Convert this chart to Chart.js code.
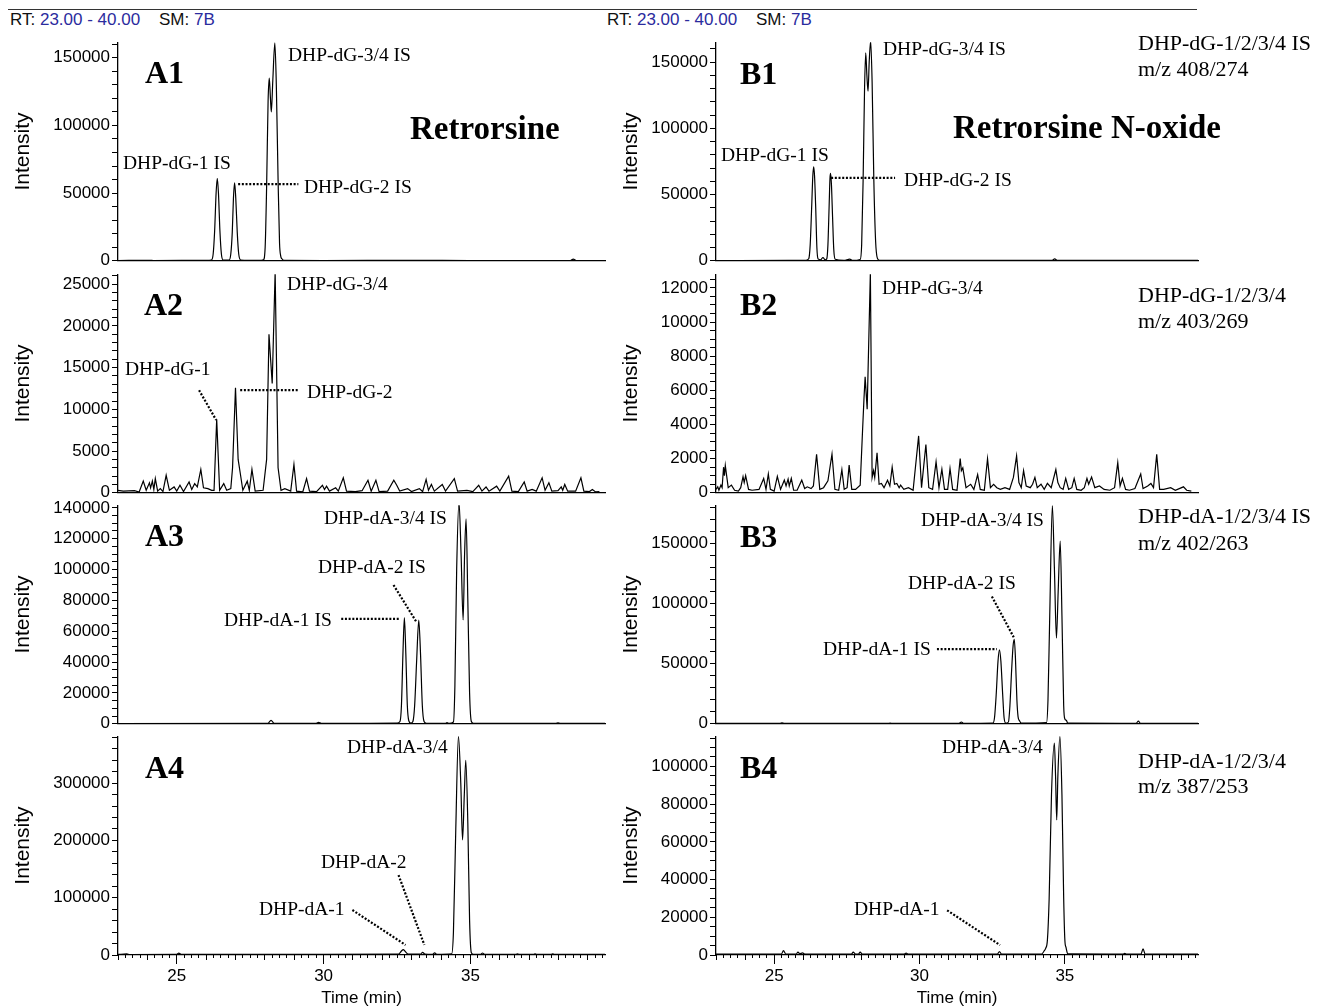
<!DOCTYPE html>
<html>
<head>
<meta charset="utf-8">
<script src="https://cdn.jsdelivr.net/npm/chart.js@4/dist/chart.umd.min.js"></script>
<style>
  body { margin: 0; background: #fff; width: 1322px; height: 1007px; position: relative; overflow: hidden; font-family: "Liberation Sans", Arial, sans-serif; }
  .hdr { position: absolute; top: 11px; font-size: 17px; line-height: 17px; color: #111; white-space: pre; }
  .hdr b { font-weight: normal; color: #2b2b9e; }
  #rule { position: absolute; left: 8px; top: 9px; width: 1189px; border-top: 1.5px solid #333; }
  canvas { position: absolute; }
</style>
</head>
<body>
<div id="rule"></div>
<div class="hdr" style="left:10px">RT: <b>23.00 - 40.00</b>    SM: <b>7B</b></div>
<div class="hdr" style="left:607px">RT: <b>23.00 - 40.00</b>    SM: <b>7B</b></div>
<script>
// chromatogram traces, [time (min), intensity]
const traceA1 = [
  [23.0,200],[24.1,300],[24.2,200],[26.0,300],[26.18,600],
  [26.24,5000],[26.29,22000],[26.34,50000],[26.38,61000],[26.42,50000],[26.47,22000],[26.52,5000],[26.58,600],
  [26.78,500],[26.84,5000],[26.89,21000],[26.93,46000],[26.97,57500],[27.01,46000],[27.06,21000],[27.11,5000],[27.18,600],
  [27.8,300],[27.95,700],[28.01,10000],[28.06,55000],[28.11,118000],[28.15,135000],[28.19,120000],[28.22,110000],
  [28.27,133000],[28.34,161000],[28.39,130000],[28.45,60000],[28.5,13000],[28.54,3500],[28.58,1500],[28.65,300],
  [30.0,200],[33.0,300],[35.0,200],[38.4,200],[38.5,1200],[38.6,200],[39.58,200]
]
const traceB1 = [
  [23.0,200],[25.5,300],[26.1,400],
  [26.19,1500],[26.24,12000],[26.29,40000],[26.33,64000],[26.36,71000],[26.39,64000],[26.43,40000],[26.47,10000],[26.51,1500],
  [26.6,800],[26.68,2500],[26.75,800],
  [26.81,1500],[26.85,12000],[26.89,40000],[26.92,62000],[26.94,66000],[26.97,58000],[27.01,33000],[27.05,9000],[27.1,1200],
  [27.4,400],[27.6,1200],[27.7,300],
  [27.96,1000],[28.01,12000],[28.06,60000],[28.11,130000],[28.15,157000],[28.19,140000],[28.23,128000],[28.27,150000],
  [28.32,166000],[28.37,135000],[28.43,60000],[28.49,15000],[28.55,2000],[28.62,400],
  [31.0,300],[34.55,300],[34.65,1400],[34.75,300],[39.58,300]
]
const traceA2 = [
  [23.0,300],[23.18,200],[23.56,250],[23.72,100],[23.86,1400],[23.96,300],[24.07,1200],[24.11,600],[24.17,1400],[24.22,400],
  [24.27,1700],[24.35,200],[24.44,500],[24.53,150],[24.64,2100],[24.75,300],[24.91,700],[25.0,200],[25.11,900],[25.23,150],
  [25.42,1300],[25.51,400],[25.61,1100],[25.7,700],[25.82,2800],[25.91,600],[26.06,500],[26.19,300],[26.27,300],[26.36,8800],
  [26.46,300],[26.6,1100],[26.7,300],[26.84,500],[26.9,3000],[27.0,12600],[27.09,4000],[27.16,2400],[27.25,300],[27.4,1400],
  [27.47,300],[27.56,2800],[27.67,200],[27.94,300],[28.06,4000],[28.14,19000],[28.25,13100],[28.35,26500],[28.45,3000],
  [28.55,300],[28.68,500],[28.88,200],[28.99,3400],[29.08,200],[29.29,100],[29.42,1700],[29.52,200],[29.76,150],[29.96,900],
  [30.03,400],[30.1,800],[30.2,200],[30.41,600],[30.5,200],[30.67,1800],[30.78,200],[31.08,150],[31.31,250],[31.51,1500],
  [31.62,200],[31.78,1500],[31.89,150],[32.18,200],[32.39,1500],[32.49,900],[32.59,200],[32.86,500],[32.99,150],[33.26,500],
  [33.37,150],[33.49,1600],[33.57,300],[33.67,1000],[33.77,200],[34.04,1000],[34.15,200],[34.45,1700],[34.56,200],[34.88,300],
  [35.08,150],[35.28,900],[35.39,200],[35.53,700],[35.63,200],[35.89,800],[36.0,200],[36.3,2000],[36.41,200],[36.63,150],
  [36.83,1300],[36.93,200],[37.1,400],[37.24,200],[37.44,1800],[37.54,300],[37.67,1200],[37.77,200],[37.98,250],[38.09,700],
  [38.14,300],[38.21,1000],[38.31,200],[38.58,200],[38.76,1800],[38.86,200],[39.05,150],[39.15,400],[39.26,100],[39.39,150]
]
const traceB2 = [
  [23.0,200],[23.06,350],[23.1,150],[23.17,450],[23.21,300],[23.26,1500],[23.29,1000],[23.32,1600],[23.42,300],[23.53,450],
  [23.64,150],[23.77,100],[23.85,300],[23.93,940],[23.97,600],[24.02,1000],[24.12,200],[24.24,150],[24.48,200],[24.64,840],
  [24.72,200],[24.8,1100],[24.87,200],[25.0,100],[25.11,960],[25.22,200],[25.35,740],[25.41,400],[25.48,800],[25.52,400],
  [25.59,840],[25.67,150],[25.79,150],[25.95,740],[26.05,250],[26.14,350],[26.27,250],[26.35,400],[26.46,2250],[26.57,200],
  [26.7,300],[26.85,700],[26.99,2260],[27.09,200],[27.22,150],[27.33,1350],[27.41,200],[27.51,300],[27.58,1620],[27.67,200],
  [27.8,200],[27.96,450],[28.04,3600],[28.09,5500],[28.13,6800],[28.2,4900],[28.31,12900],[28.37,900],[28.42,1300],[28.46,900],
  [28.54,2340],[28.61,500],[28.69,550],[28.78,300],[28.9,740],[28.98,400],[29.06,1500],[29.14,500],[29.22,550],[29.3,300],
  [29.35,450],[29.46,200],[29.62,300],[29.78,150],[29.97,3330],[30.07,300],[30.22,2830],[30.32,300],[30.45,200],[30.57,1810],
  [30.67,300],[30.77,1380],[30.86,200],[30.97,200],[31.05,1420],[31.14,200],[31.29,150],[31.4,2000],[31.44,1300],[31.49,1460],
  [31.6,300],[31.76,500],[31.87,200],[32.0,1070],[32.09,200],[32.23,150],[32.34,2000],[32.44,300],[32.55,500],[32.66,300],
  [32.78,200],[32.94,300],[33.1,200],[33.23,900],[33.34,2160],[33.42,600],[33.5,300],[33.58,1290],[33.67,400],[33.81,300],
  [33.89,500],[33.97,900],[34.05,300],[34.18,500],[34.29,200],[34.4,550],[34.53,300],[34.69,1360],[34.76,600],[34.84,300],
  [34.94,200],[35.03,840],[35.13,200],[35.24,300],[35.32,840],[35.41,200],[35.56,150],[35.67,300],[35.76,840],[35.82,500],
  [35.92,920],[36.03,300],[36.19,400],[36.35,200],[36.55,150],[36.71,300],[36.82,1770],[36.9,400],[36.98,840],[37.09,200],
  [37.22,150],[37.41,250],[37.61,1100],[37.69,250],[37.85,400],[37.96,550],[38.05,300],[38.16,2250],[38.26,200],[38.4,200],
  [38.64,300],[38.8,150],[39.08,350],[39.19,150],[39.35,100]
]
const traceA3 = [
  [23.0,200],[28.1,300],[28.21,2200],[28.32,300],[29.75,300],[29.83,900],[29.92,300],
  [32.5,400],[32.6,1500],[32.65,12000],[32.7,45000],[32.75,68800],[32.8,45000],[32.85,12000],[32.9,2000],[32.97,400],
  [33.04,1500],[33.1,12000],[33.17,42000],[33.24,67300],[33.3,45000],[33.36,12000],[33.42,1500],[33.5,300],
  [34.15,300],[34.2,700],[34.27,300],
  [34.42,1200],[34.47,25000],[34.53,100000],[34.61,143700],[34.68,110000],[34.75,67300],[34.8,110000],[34.85,132800],
  [34.91,80000],[34.97,20000],[35.03,1500],[35.1,300],
  [37.9,300],[37.98,600],[38.06,300],[39.58,300]
]
const traceB3 = [
  [23.0,300],[25.2,300],[25.27,800],[25.35,300],[28.9,300],[28.99,600],[29.08,300],
  [31.35,300],[31.44,1500],[31.52,300],
  [32.52,500],[32.58,5000],[32.64,25000],[32.7,52000],[32.75,61600],[32.8,52000],[32.86,25000],[32.91,5000],[32.97,500],
  [33.06,1500],[33.11,15000],[33.17,45000],[33.22,65000],[33.26,70400],[33.3,55000],[33.35,20000],[33.39,6000],[33.44,2500],[33.5,500],
  [34.37,1000],[34.42,20000],[34.48,90000],[34.57,181700],[34.64,130000],[34.71,71300],[34.77,110000],[34.84,152200],
  [34.9,90000],[34.96,15000],[35.0,4000],[35.05,3000],[35.1,500],
  [37.45,400],[37.53,2200],[37.6,400],[39.58,300]
]
const traceA4 = [
  [23.0,1000],[23.3,1800],[23.4,800],[25.0,1000],[25.07,3200],[25.15,1000],[27.5,1200],[30.0,1000],
  [32.55,1500],[32.65,7000],[32.71,9500],[32.78,6000],[32.88,1500],
  [33.3,1500],[33.37,4600],[33.45,1500],[33.7,1200],[33.78,3600],[33.86,1200],
  [34.36,2000],[34.42,40000],[34.5,220000],[34.59,382000],[34.67,300000],[34.73,201000],[34.79,280000],[34.84,340000],
  [34.91,230000],[34.97,60000],[35.03,4000],[35.1,1200],
  [35.35,1200],[35.41,3500],[35.48,1200],[36.55,1200],[36.6,2000],[36.65,1200],[37.15,1200],[37.2,2000],[37.25,1200],
  [37.75,1200],[37.8,2200],[37.85,1200],[39.58,1000]
]
const traceB4 = [
  [23.0,500],[25.25,500],[25.32,2300],[25.4,500],[25.76,500],[25.82,1600],[25.88,600],[25.98,1100],[26.05,500],
  [27.66,500],[27.72,1500],[27.8,500],[27.9,500],[27.96,1500],[28.03,500],[29.48,500],[29.54,1000],[29.6,500],
  [32.68,500],[32.75,1800],[32.82,500],
  [34.2,500],[34.28,2000],[34.34,3500],[34.4,8000],[34.46,30000],[34.54,85000],[34.64,112400],[34.68,95000],[34.72,71600],
  [34.76,95000],[34.83,116000],[34.9,85000],[34.96,30000],[35.0,8000],[35.04,4000],[35.1,600],
  [37.0,500],[37.06,900],[37.12,500],[37.62,500],[37.69,3300],[37.76,500],[39.58,500]
]

// y axis: [max, minor tick step, labelled step]
const yA1 = [161500, 10000, 50000]
const yB1 = [165000, 10000, 50000]
const yA2 = [26200, 1000, 5000]
const yB2 = [12800, 500, 2000]
const yA3 = [141700, 5000, 20000]
const yB3 = [182000, 10000, 50000]
const yA4 = [382000, 20000, 100000]
const yB4 = [116000, 5000, 20000]

const timeMin = 23
const timeMax = 39.58

// labels: text, x, baseline y (page px), style
const notesA1 = [["A1",145,83,"b"],["DHP-dG-3/4 IS",288,61,"p"],["Retrorsine",410,139,"B"],["DHP-dG-1 IS",123,169,"p"],["DHP-dG-2 IS",304,193,"p"]]
const notesB1 = [["B1",740,84,"b"],["DHP-dG-3/4 IS",883,55,"p"],["DHP-dG-1/2/3/4 IS",1138,50,"r"],["m/z 408/274",1138,76,"r"],
  ["Retrorsine N-oxide",953,138,"B"],["DHP-dG-1 IS",721,161,"p"],["DHP-dG-2 IS",904,186,"p"]]
const notesA2 = [["A2",144,315,"b"],["DHP-dG-3/4",287,290,"p"],["DHP-dG-1",125,375,"p"],["DHP-dG-2",307,398,"p"]]
const notesB2 = [["B2",740,315,"b"],["DHP-dG-3/4",882,294,"p"],["DHP-dG-1/2/3/4",1138,302,"r"],["m/z 403/269",1138,328,"r"]]
const notesA3 = [["A3",145,546,"b"],["DHP-dA-3/4 IS",324,524,"p"],["DHP-dA-2 IS",318,573,"p"],["DHP-dA-1 IS",224,626,"p"]]
const notesB3 = [["B3",740,547,"b"],["DHP-dA-3/4 IS",921,526,"p"],["DHP-dA-1/2/3/4 IS",1138,523,"r"],["m/z 402/263",1138,550,"r"],
  ["DHP-dA-2 IS",908,589,"p"],["DHP-dA-1 IS",823,655,"p"]]
const notesA4 = [["A4",145,778,"b"],["DHP-dA-3/4",347,753,"p"],["DHP-dA-2",321,868,"p"],["DHP-dA-1",259,915,"p"]]
const notesB4 = [["B4",740,778,"b"],["DHP-dA-3/4",942,753,"p"],["DHP-dA-1/2/3/4",1138,768,"r"],["m/z 387/253",1138,793,"r"],["DHP-dA-1",854,915,"p"]]

// dotted leaders in data units: [t1, v1, t2, v2]
const leadA1 = [[27.09,56600,29.14,56600]]
const leadB1 = [[26.96,62600,29.16,62600]]
const leadA2 = [[25.76,12300,26.34,8730],[27.16,12300,29.14,12300]]
const leadB2 = []
const leadA3 = [[32.38,90000,33.16,66000],[30.6,68000,32.61,68000]]
const leadB3 = [[32.49,106000,33.24,72100],[30.6,62200,32.66,62200]]
const leadA4 = [[32.55,139600,33.43,17500],[30.98,78500,32.79,17500]]
const leadB4 = [[30.95,23700,32.77,5260]]

const SANS = '"Liberation Sans", Arial, sans-serif'
const SERIF = '"Liberation Serif", "Times New Roman", serif'
const FONTS = {
  p: `19.5px ${SERIF}`,
  r: `22px ${SERIF}`,
  b: `bold 32px ${SERIF}`,
  B: `bold 33px ${SERIF}`
}

const panels = [
  { col: 0, row: 0, trace: traceA1, y: yA1, notes: notesA1, leads: leadA1 },
  { col: 1, row: 0, trace: traceB1, y: yB1, notes: notesB1, leads: leadB1 },
  { col: 0, row: 1, trace: traceA2, y: yA2, notes: notesA2, leads: leadA2, noisy: true },
  { col: 1, row: 1, trace: traceB2, y: yB2, notes: notesB2, leads: leadB2, noisy: true },
  { col: 0, row: 2, trace: traceA3, y: yA3, notes: notesA3, leads: leadA3 },
  { col: 1, row: 2, trace: traceB3, y: yB3, notes: notesB3, leads: leadB3 },
  { col: 0, row: 3, trace: traceA4, y: yA4, notes: notesA4, leads: leadA4 },
  { col: 1, row: 3, trace: traceB4, y: yB4, notes: notesB4, leads: leadB4 }
]

const plotTops = [42, 274, 505, 736]
const plotH = 219
const colLeft = [0, 610]
const colWidth = [610, 712]
const yAxisW = [118, 106]
const padRight = [5, 124]

function notesPlugin(p, left, top) {
  return {
    id: "notes",
    afterDraw(chart) {
      const ctx = chart.ctx
      const xs = chart.scales.x
      const ys = chart.scales.y
      ctx.save()
      ctx.strokeStyle = "#000"
      ctx.lineWidth = 2.2
      ctx.setLineDash([2, 1.7])
      p.leads.forEach(([t1, v1, t2, v2]) => {
        ctx.beginPath()
        ctx.moveTo(xs.getPixelForValue(t1), ys.getPixelForValue(v1))
        ctx.lineTo(xs.getPixelForValue(t2), ys.getPixelForValue(v2))
        ctx.stroke()
      })
      ctx.setLineDash([])
      ctx.fillStyle = "#000"
      ctx.textAlign = "left"
      ctx.textBaseline = "alphabetic"
      p.notes.forEach(([text, x, y, kind]) => {
        ctx.font = FONTS[kind]
        ctx.fillText(text, x - left, y - top)
      })
      ctx.restore()
    }
  }
}

// extra tick-only x axes (1 min and 0.25 min marks) stacked at the plot bottom
function minorX(step, len) {
  return {
    type: "linear", position: "bottom", min: timeMin, max: timeMax, weight: 0,
    border: { display: false },
    grid: { drawOnChartArea: false, drawTicks: true, tickLength: len, color: "#000", lineWidth: 1 },
    ticks: { display: false, stepSize: step, autoSkip: false, includeBounds: false, maxTicksLimit: 1000 },
    afterFit: (s) => { s.height = 0 }
  }
}

panels.forEach(p => {
  const bottom = p.row === 3
  const xH = bottom ? 52 : 12
  const left = colLeft[p.col]
  const top = plotTops[p.row] - 12
  const w = colWidth[p.col]
  const h = 12 + plotH + xH
  const [yMax, minor, major] = p.y

  const canvas = document.createElement("canvas")
  canvas.width = w
  canvas.height = h
  canvas.style.left = left + "px"
  canvas.style.top = top + "px"
  canvas.style.width = w + "px"
  canvas.style.height = h + "px"
  document.body.appendChild(canvas)

  const scales = {
    x: {
      type: "linear", position: "bottom", min: timeMin, max: timeMax, weight: 1,
      border: { display: true, color: "#000", width: 1.3 },
      grid: { drawOnChartArea: false, drawTicks: bottom, tickLength: 9, color: "#000", lineWidth: 1 },
      ticks: {
        display: bottom, stepSize: 5, autoSkip: false, includeBounds: false, maxRotation: 0, padding: 2,
        color: "#000", font: { family: SANS, size: 17 }
      },
      title: {
        display: bottom, text: "Time (min)", color: "#000",
        font: { family: SANS, size: 17, lineHeight: 1 }, padding: { top: 0, bottom: 0 }
      },
      afterFit: (s) => { s.height = xH }
    },
    y: {
      type: "linear", position: "left", min: 0, max: yMax,
      border: { display: true, color: "#000", width: 1.3 },
      grid: { drawOnChartArea: false, drawTicks: true, tickLength: 6, color: "#000", lineWidth: 1 },
      ticks: {
        autoSkip: false, padding: 2,
        color: "#000", font: { family: SANS, size: 17 },
        callback: (v) => (v % major === 0 ? String(v) : "")
      },
      // minor ticks all the way up, labels only on the major ones
      afterBuildTicks: (s) => {
        const list = []
        for (let v = 0; v <= yMax; v += minor) list.push({ value: v })
        s.ticks = list
      },
      title: {
        display: true, text: "Intensity", color: "#000",
        font: { family: SANS, size: 21, lineHeight: 1 },
        padding: { top: p.col === 0 ? 12.5 : 10.5, bottom: 0 }
      },
      afterFit: (s) => { s.width = yAxisW[p.col] }
    }
  }
  if (bottom) {
    scales.xm = minorX(1, 5)
    scales.xs = minorX(0.25, 3)
  }

  new Chart(canvas, {
    type: "line",
    data: {
      datasets: [{
        data: p.trace.map(([t, v]) => ({ x: t, y: v })),
        borderColor: "#000",
        borderWidth: 1.2,
        pointRadius: 0,
        fill: false,
        tension: 0,
        cubicInterpolationMode: p.noisy ? "default" : "monotone"
      }]
    },
    options: {
      responsive: false,
      animation: false,
      events: [],
      layout: { padding: { top: 12, right: padRight[p.col], left: 0, bottom: 0 } },
      plugins: { legend: { display: false }, tooltip: { enabled: false } },
      scales
    },
    plugins: [notesPlugin(p, left, top)]
  })
})
</script>
</body>
</html>
